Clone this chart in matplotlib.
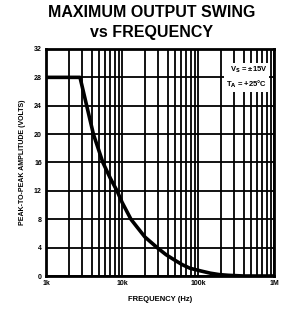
import matplotlib
matplotlib.use("Agg")
from matplotlib import pyplot as plt
from matplotlib.ticker import LogLocator, NullFormatter, FixedLocator

# peak-to-peak output swing
freq_hz = [1e3, 2.8e3, 3.1e3, 3.43e3, 4.2e3, 5.6e3, 7e3, 8.6e3, 10e3, 13.1e3,
           15.5e3, 20e3, 29e3, 38e3, 50e3, 62e3, 78e3, 110e3, 145e3, 190e3,
           250e3, 400e3, 1e6]
swing_v = [28, 28, 26, 24, 20, 16, 13.8, 12, 10.4, 8,
           7, 5.5, 4, 3.0, 2.2, 1.6, 1.1, 0.7, 0.4, 0.2,
           0.1, 0, 0]

x_ticks = [1e3, 1e4, 1e5, 1e6]
x_labels = ["1k", "10k", "100k", "1M"]
y_ticks = [0, 4, 8, 12, 16, 20, 24, 28, 32]

plt.rcParams["font.family"] = ["Liberation Sans", "DejaVu Sans"]
plt.rcParams["font.weight"] = "bold"

fig = plt.figure(figsize=(2.84, 3.11), dpi=100)
ax = fig.add_axes([0.162, 0.1125, 0.803, 0.730])

ax.plot(freq_hz, swing_v, color="black", lw=2.6, solid_capstyle="butt",
        solid_joinstyle="round")

ax.set_xscale("log")
ax.set_xlim(1e3, 1e6)
ax.set_ylim(0, 32)
ax.xaxis.set_major_locator(FixedLocator(x_ticks))
ax.set_xticklabels(x_labels)
ax.xaxis.set_minor_locator(LogLocator(base=10, subs=range(2, 10)))
ax.xaxis.set_minor_formatter(NullFormatter())
ax.set_yticks(y_ticks)

ax.grid(True, which="both", color="black", lw=1.3)
for s in ax.spines.values():
    s.set_linewidth(2)
ax.tick_params(which="both", length=0, labelsize=5, pad=3)

ax.text(0.97, 0.93, "V$_\\mathbf{S}$ = \u00b115V\nT$_\\mathbf{A}$ = +25\u00b0C",
        transform=ax.transAxes, ha="right", va="top", fontsize=5.5,
        fontweight="bold", linespacing=1.4,
        bbox=dict(facecolor="white", edgecolor="none", pad=1.5))

ax.set_xlabel("FREQUENCY (Hz)", fontsize=5.5, fontweight="bold", labelpad=6)
ax.set_ylabel("PEAK-TO-PEAK AMPLITUDE (VOLTS)", fontsize=5, fontweight="bold",
              labelpad=6)

fig.text(0.535, 0.96, "MAXIMUM OUTPUT SWING", ha="center", va="center",
         fontsize=11.5, fontweight="heavy")
fig.text(0.535, 0.895, "vs FREQUENCY", ha="center", va="center",
         fontsize=11.5, fontweight="heavy")

fig.savefig("out.png", dpi=100)
